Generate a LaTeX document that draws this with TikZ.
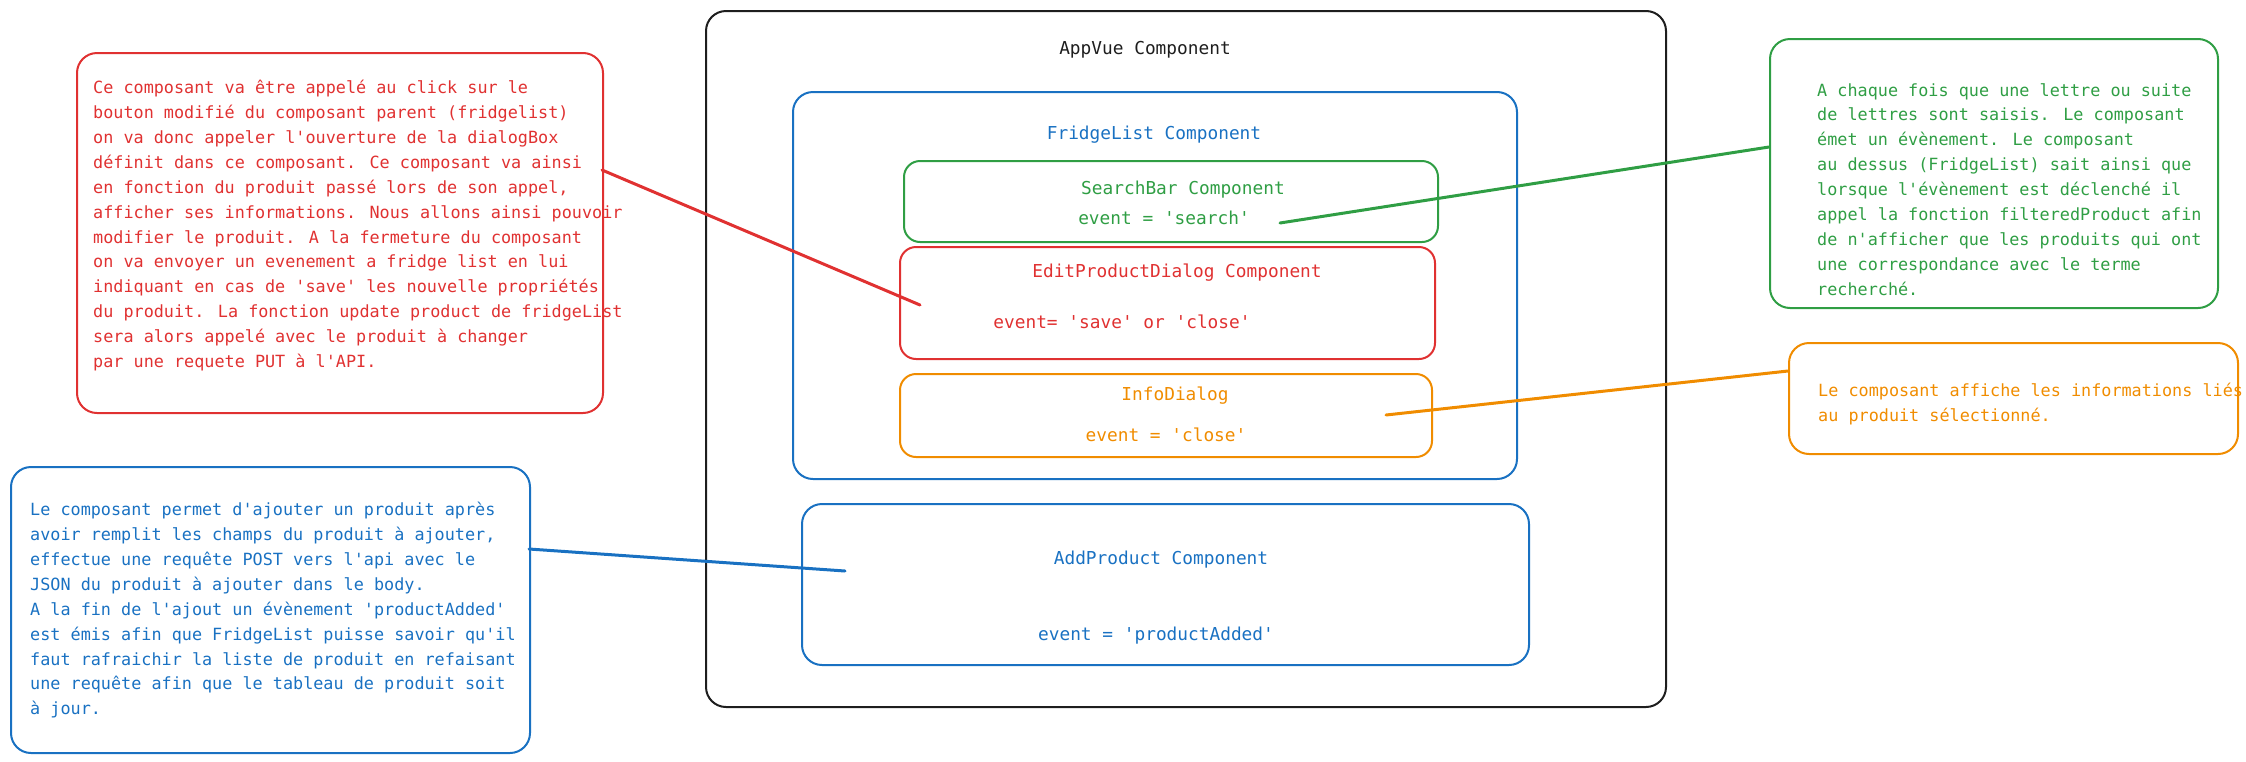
\documentclass[tikz,border=0pt]{standalone}
\usepackage{fontspec}
\setmainfont{DejaVu Sans Mono}[Ligatures=TeXOff]
\definecolor{cred}{HTML}{E03131}
\definecolor{cblue}{HTML}{1971C2}
\definecolor{cgreen}{HTML}{2F9E44}
\definecolor{corange}{HTML}{F08C00}
\definecolor{cblack}{HTML}{1E1E1E}
\tikzset{
  cbox/.style={draw=#1, line width=2pt, rounded corners=20pt, anchor=north west, inner sep=0pt},
  notetext/.style={text=#1, anchor=north west, align=left, inner sep=0pt, font=\fontsize{16.8}{24.9}\selectfont},
  lbl/.style={text=#1, inner sep=0pt, font=\fontsize{17.8}{22}\selectfont},
  conn/.style={draw=#1, line width=3pt, line cap=round}
}
\begin{document}
\begin{tikzpicture}[x=1pt,y=-1pt]
\useasboundingbox (0,0) rectangle (2246,761);
% main boxes
\node[cbox=cblack, minimum width=960pt, minimum height=696pt] (appbox) at (705,10) {};
\node[cbox=cblue, minimum width=724pt, minimum height=387pt] (fridgebox) at (792,91) {};
\node[cbox=cgreen, minimum width=534pt, minimum height=81pt, rounded corners=16pt] (searchbox) at (903,160) {};
\node[cbox=cred, minimum width=535pt, minimum height=112pt, rounded corners=16pt] (editbox) at (899,246) {};
\node[cbox=corange, minimum width=532pt, minimum height=83pt, rounded corners=16pt] (infobox) at (899,373) {};
\node[cbox=cblue, minimum width=727pt, minimum height=161pt] (addbox) at (801,503) {};
% labels
\node[lbl=cblack] (applbl) at (1145,50) {AppVue Component};
\node[lbl=cblue] (fridgelbl) at (1154,135) {FridgeList Component};
\node[lbl=cgreen] (searchlbl) at (1183,190) {SearchBar Component};
\node[lbl=cgreen] (searchevt) at (1164,218) {event = 'search'};
\node[lbl=cred] (editlbl) at (1177,273) {EditProductDialog Component};
\node[lbl=cred] (editevt) at (1122,322) {event= 'save' or 'close'};
\node[lbl=corange] (infolbl) at (1175,396) {InfoDialog};
\node[lbl=corange] (infoevt) at (1166,435) {event = 'close'};
\node[lbl=cblue] (addlbl) at (1161,560) {AddProduct Component};
\node[lbl=cblue] (addevt) at (1156,636) {event = 'productAdded'};
% notes
\node[cbox=cred, minimum width=526pt, minimum height=360pt] (rednote) at (76,52) {};
\node[notetext=cred] (redtxt) at (93,80) {Ce composant va être appelé au click sur le\\
bouton modifié du composant parent (fridgelist)\\
on va donc appeler l'ouverture de la dialogBox\\
définit dans ce composant. Ce composant va ainsi\\
en fonction du produit passé lors de son appel,\\
afficher ses informations. Nous allons ainsi pouvoir\\
modifier le produit. A la fermeture du composant\\
on va envoyer un evenement a fridge list en lui\\
indiquant en cas de 'save' les nouvelle propriétés\\
du produit. La fonction update product de fridgeList\\
sera alors appelé avec le produit à changer\\
par une requete PUT à l'API.};
\node[cbox=cblue, minimum width=519pt, minimum height=286pt] (bluenote) at (10,466) {};
\node[notetext=cblue] (bluetxt) at (30,502) {Le composant permet d'ajouter un produit après\\
avoir remplit les champs du produit à ajouter,\\
effectue une requête POST vers l'api avec le\\
JSON du produit à ajouter dans le body.\\
A la fin de l'ajout un évènement 'productAdded'\\
est émis afin que FridgeList puisse savoir qu'il\\
faut rafraichir la liste de produit en refaisant\\
une requête afin que le tableau de produit soit\\
à jour.};
\node[cbox=cgreen, minimum width=448pt, minimum height=269pt] (greennote) at (1769,38) {};
\node[notetext=cgreen] (greentxt) at (1817,83) {A chaque fois que une lettre ou suite\\
de lettres sont saisis. Le composant\\
émet un évènement. Le composant\\
au dessus (FridgeList) sait ainsi que\\
lorsque l'évènement est déclenché il\\
appel la fonction filteredProduct afin\\
de n'afficher que les produits qui ont\\
une correspondance avec le terme\\
recherché.};
\node[cbox=corange, minimum width=449pt, minimum height=111pt] (orangenote) at (1788,342) {};
\node[notetext=corange] (orangetxt) at (1818,383) {Le composant affiche les informations liés\\
au produit sélectionné.};
% connector ends
\coordinate (redA) at (602,170);
\coordinate (redB) at (920,305);
\coordinate (greenA) at (1280,223);
\coordinate (greenB) at (1769,147);
\coordinate (orangeA) at (1386,415);
\coordinate (orangeB) at (1788,371);
\coordinate (blueA) at (529,549);
\coordinate (blueB) at (845,571);
\draw[conn=cred] (redA) -- (redB);
\draw[conn=cgreen] (greenA) -- (greenB);
\draw[conn=corange] (orangeA) -- (orangeB);
\draw[conn=cblue] (blueA) -- (blueB);
\end{tikzpicture}
\end{document}
